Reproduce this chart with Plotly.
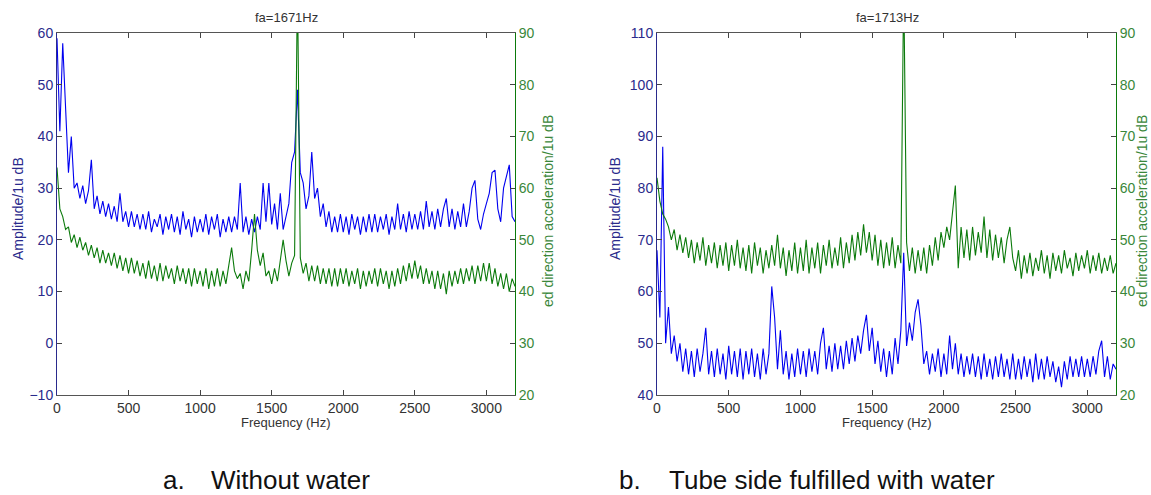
import numpy as np
import plotly.graph_objects as go

# frequency axis, 20 Hz step, 0..3200 Hz
freq = np.arange(0, 3201, 20)

# a. without water -- amplitude (left axis, dB)
amp_dry = [
    59, 41, 58, 44, 33, 40, 30, 31, 28, 30.5,
    27, 29.5, 35.5, 26, 28.5, 25, 27.5, 24.5, 27, 24,
    26.5, 23.5, 29, 23.5, 25.5, 22.5, 25.5, 22.5, 25, 22,
    25, 22, 25.5, 21.5, 24, 22.5, 25, 21, 24.5, 22,
    25, 21.5, 24.5, 21, 25.5, 22, 24, 20.5, 24.5, 21.5,
    24, 21.5, 25, 21, 24.5, 22, 25, 20.5, 24, 21.5,
    24.5, 21.5, 24.5, 22, 31, 21.5, 24.5, 21, 24, 21.5,
    24.5, 22, 31, 23.5, 31, 23, 27, 22, 29, 22,
    24.5, 27, 35, 37, 49, 33, 31, 26, 28.5, 37,
    28, 30, 24.5, 27, 22.5, 25.5, 21.5, 24.5, 21.5, 25,
    21.5, 24.5, 21, 25, 22, 24.5, 21, 24.5, 21.5, 25,
    21.5, 25, 21.5, 24.5, 22, 25, 21, 24.5, 22, 27,
    22, 25, 21.5, 25.5, 22, 25, 22, 25.5, 22, 27.5,
    22.5, 25.5, 22, 26, 22.5, 26, 28, 22.5, 26, 22,
    25.5, 22.5, 27, 22.5, 25.5, 30, 31.5, 24, 22, 25,
    27, 29, 33, 33.5, 26, 23.5, 30, 32, 34.5, 24.5,
    23.5,
]

# a. without water -- direction acceleration (right axis, dB)
acc_dry = [
    64, 56, 54.5, 52, 52.5, 49.5, 51, 48.5, 50.5, 48,
    49.5, 47, 49, 46.5, 48.5, 45.5, 48, 45.5, 47.5, 45,
    47.5, 44.5, 47, 44, 46.5, 43.5, 46.5, 43.5, 46, 43,
    45.5, 42.5, 46, 42.5, 45, 42, 45.5, 42, 45, 42.5,
    44.5, 41.5, 45, 42, 44.5, 41.5, 44.5, 41, 44.5, 41.5,
    44, 41, 44.5, 40.5, 44, 41, 44.5, 41, 44, 41.5,
    45, 48.5, 44, 42.5, 43.5, 40.5, 44, 42, 48, 55,
    48, 45, 47.5, 43, 44, 41.5, 44.5, 42, 46, 50,
    46, 43, 45.5, 47, 100, 46.5, 43.5, 45.5, 42, 45,
    42, 45, 41.5, 44.5, 41.5, 44.5, 41, 44.5, 41, 44.5,
    41.5, 44.5, 41, 44, 41.5, 44.5, 40.5, 44, 41, 44,
    41.5, 44.5, 41, 44.5, 41.5, 44, 40.5, 44, 41, 44.5,
    41.5, 45, 42, 45.5, 42.5, 46, 42.5, 45, 41.5, 44.5,
    41.5, 44, 40.5, 44, 40.5, 43.5, 39.5, 44, 41, 44,
    41.5, 44.5, 41.5, 44.5, 42, 45, 41.5, 45, 42, 45.5,
    42, 45.5, 41.5, 44.5, 41, 43.5, 40.5, 43.5, 40, 42.5,
    41,
]

# b. tube side filled with water -- amplitude (left axis, dB)
amp_wet = [
    68, 55, 88, 50, 57, 48, 51.5, 46.5, 50, 44.5,
    49, 44, 48.5, 43.5, 49, 44.5, 48, 53, 44, 48.5,
    43.5, 49, 44, 48, 43, 49.5, 44, 48.5, 43.5, 49,
    43, 48.5, 44, 49, 43.5, 48, 43, 49, 44, 48,
    61, 55, 45, 52.5, 44, 48.5, 43, 48, 43.5, 49,
    44, 48.5, 43.5, 49, 44.5, 48.5, 44, 50, 53, 45,
    49.5, 44.5, 50, 45, 49.5, 45, 50.5, 46, 51, 46.5,
    51.5, 48, 52.5, 55.5, 48.5, 53, 46, 50.5, 44.5, 49,
    43.5, 48.5, 44, 51, 46, 52.5, 67.5, 49.5, 54, 50.5,
    56, 58.5, 53.5, 46, 48.5, 44, 48, 44.5, 49, 43.5,
    48, 44, 51.5, 45, 50, 44, 48, 43.5, 47.5, 44,
    48, 43.5, 47.5, 43, 48, 43.5, 47, 43, 47.5, 43.5,
    48, 43.5, 47, 43, 48, 43, 47, 43, 47.5, 43.5,
    47, 42.5, 48, 43, 47, 43, 47.5, 43.5, 46.5, 42.5,
    45.5, 41.5, 46.5, 43, 47.5, 43.5, 47, 43.5, 47.5, 43.5,
    47, 43.5, 47.5, 44, 48.5, 50.5, 43.5, 47.5, 43, 46,
    45,
]

# b. tube side filled with water -- direction acceleration (right axis, dB)
acc_wet = [
    62, 57.5, 55, 54, 52.5, 50, 52, 48, 51, 47.5,
    50.5, 46.5, 50, 45.5, 49.5, 46, 50.5, 45, 49, 45.5,
    49.5, 44.5, 49, 45, 49.5, 44, 49, 45, 50, 44.5,
    48.5, 44, 49, 43.5, 49.5, 45, 48.5, 43.5, 48, 44.5,
    49, 45, 51, 44.5, 48.5, 43, 48, 44, 49.5, 43.5,
    48.5, 44, 50, 43.5, 48.5, 44.5, 49.5, 43.5, 49, 45,
    50, 44.5, 48.5, 45, 50.5, 44.5, 49.5, 45.5, 51, 46,
    51.5, 47, 53, 47.5, 51.5, 46, 51, 45, 50, 44.5,
    49.5, 45, 50.5, 44.5, 49, 45.5, 100, 49.5, 44, 48.5,
    43.5, 48, 44, 48.5, 43.5, 49, 45, 50.5, 46, 51.5,
    48.5, 52.5, 50, 55, 60.5, 44.5, 52.5, 46.5, 52, 46,
    52.5, 47, 51.5, 47.5, 54.5, 46.5, 52, 46, 51, 46.5,
    50.5, 45.5, 50, 52.5, 46.5, 44, 48, 42.5, 47, 43.5,
    47.5, 43, 46.5, 44, 48, 43.5, 47, 42.5, 47.5, 44,
    47, 43.5, 48, 44.5, 46.5, 43, 47.5, 44, 47, 44.5,
    48, 43.5, 47, 44, 47.5, 43.5, 46.5, 44, 47, 43.5,
    45.5,
]

titles = ["fa=1671Hz", "fa=1713Hz"]
captions = [("a.", "Without water"), ("b.", "Tube side fulfilled with water")]
x_ticks = [0, 500, 1000, 1500, 2000, 2500, 3000]

BLUE = "#0000F0"
GREEN = "#0B7A0B"
NAVY_TXT = "#2A2A8C"
GREEN_TXT = "#3A873A"
FONT = "Arial, Liberation Sans, sans-serif"

W, H = 1151, 495


def px_x(p):
    return p / W


def px_y(p):
    return 1 - p / H


def label(text, x, y, size, color, angle=0, xanchor="center"):
    return dict(text=text, x=px_x(x), y=px_y(y), xref="paper", yref="paper",
                xanchor=xanchor, yanchor="middle", textangle=angle, showarrow=False,
                font=dict(family=FONT, size=size, color=color))


fig = go.Figure()

fig.add_trace(go.Scatter(x=freq, y=amp_dry, mode="lines", xaxis="x", yaxis="y",
                         line=dict(color=BLUE, width=1.1), showlegend=False))
fig.add_trace(go.Scatter(x=freq, y=acc_dry, mode="lines", xaxis="x", yaxis="y2",
                         line=dict(color=GREEN, width=1.1), showlegend=False))
fig.add_trace(go.Scatter(x=freq, y=acc_wet, mode="lines", xaxis="x2", yaxis="y4",
                         line=dict(color=GREEN, width=1.1), showlegend=False))
fig.add_trace(go.Scatter(x=freq, y=amp_wet, mode="lines", xaxis="x2", yaxis="y3",
                         line=dict(color=BLUE, width=1.1), showlegend=False))

ydom = [px_y(395), px_y(33)]
left_dom = [px_x(57), px_x(515)]
right_dom = [px_x(657), px_x(1116)]

xa = dict(range=[0, 3200], tickvals=x_ticks, ticks="inside", ticklen=5,
          showline=True, linecolor="#555555", linewidth=1, mirror="ticks",
          showgrid=False, zeroline=False,
          tickfont=dict(family=FONT, size=14, color="#333333"))
yl = dict(ticks="inside", ticklen=5, showline=True, linecolor="#2A2A8C", linewidth=1,
          showgrid=False, zeroline=False, dtick=10,
          tickfont=dict(family=FONT, size=14, color=NAVY_TXT))
yr = dict(ticks="inside", ticklen=5, showline=True, linecolor=GREEN, linewidth=1,
          showgrid=False, zeroline=False, dtick=10, side="right",
          tickfont=dict(family=FONT, size=14, color=GREEN_TXT))

fig.update_layout(
    width=W, height=H, autosize=False,
    margin=dict(l=0, r=0, t=0, b=0, autoexpand=False),
    paper_bgcolor="white", plot_bgcolor="white",
    xaxis=dict(xa, domain=left_dom, anchor="y"),
    yaxis=dict(yl, domain=ydom, anchor="x", range=[-10, 60]),
    yaxis2=dict(yr, overlaying="y", anchor="x", range=[20, 90]),
    xaxis2=dict(xa, domain=right_dom, anchor="y3"),
    yaxis3=dict(yl, domain=ydom, anchor="x2", range=[40, 110]),
    yaxis4=dict(yr, overlaying="y3", anchor="x2", range=[20, 90]),
)

ann = []
for i, (cx, lx, rx) in enumerate([(286, 18, 548), (887, 615, 1142)]):
    ann.append(label(titles[i], cx, 17, 13, "#333333"))
    ann.append(label("Frequency (Hz)", cx, 422, 13, "#333333"))
    ann.append(label("Amplitude/1u dB", lx, 209, 14, NAVY_TXT, angle=-90))
    ann.append(label("ed direction acceleration/1u dB", rx, 211, 14, GREEN_TXT, angle=-90))

# captions under the two panels
for (tag, txt), tx, wx in [(captions[0], 161, 209), (captions[1], 617, 667)]:
    ann.append(label(tag, tx, 480, 26, "#111111", xanchor="left"))
    ann.append(label(txt, wx, 480, 26, "#111111", xanchor="left"))

fig.update_layout(annotations=ann)

# page body has a default 8px margin; drop it so the figure sits at (0, 0)
fig.write_html("out.html", config={"displayModeBar": False},
               post_script="document.body.style.margin = '0';")
